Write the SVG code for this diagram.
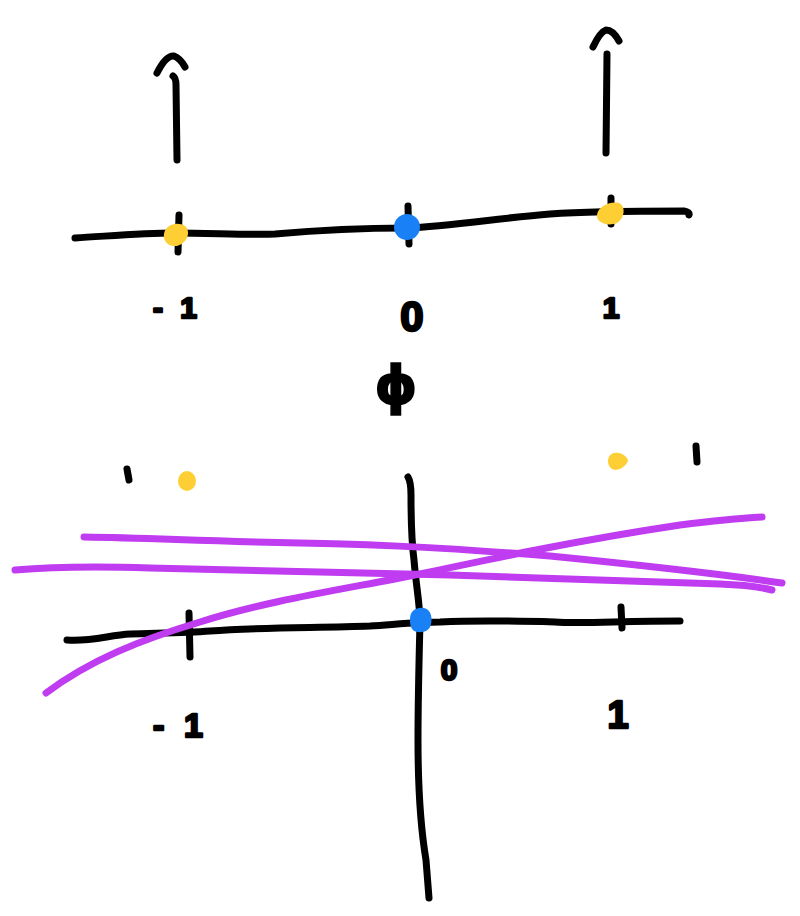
<svg xmlns="http://www.w3.org/2000/svg" width="800" height="916" viewBox="0 0 800 916">
<style>
.ink{fill:none;stroke:#000;stroke-width:7;stroke-linecap:round;stroke-linejoin:round}
.pur{fill:none;stroke:#bf3cf1;stroke-width:7;stroke-linecap:round;stroke-linejoin:round}
.yel{fill:#fdcf34}
.blu{fill:#1a80f5}
.lbl{font-family:"Liberation Sans",Arial,sans-serif;font-weight:bold;fill:#000;stroke:#000;stroke-width:2.5;stroke-linejoin:round}
</style>
<rect width="800" height="916" fill="#fff"/>
<g id="top-axis">
<path class="ink" d="M75,238 C110,236 140,233 175,233 C210,233 250,235 275,234 C320,230 370,228 407,228 C450,226 500,218 550,214 C590,211 640,211 684,211 Q690,212 689,215"/>
<path class="ink" d="M179,215 L178,252"/>
<path class="ink" d="M408,206 L409,244"/>
<path class="ink" d="M611,198 L611,224"/>
<path class="yel" d="M164,234 C165,225 177,221 185,226 C191,231 188,243 177,246 C168,247 163,241 164,234 Z"/>
<circle class="blu" cx="407" cy="227" r="13"/>
<path class="yel" d="M597,215 C598,206 611,201 619,203 C626,206 625,218 617,223 C607,227 596,222 597,215 Z"/>
</g>
<g id="arrow-left">
<path class="ink" d="M177,160 L176,85 Q176,78 173,76"/>
<path class="ink" d="M157,73 Q166,55 174,56 Q180,58 185,67"/>
</g>
<g id="arrow-right">
<path class="ink" d="M606,153 L607,54"/>
<path class="ink" d="M593,47 Q600,32 606,30 Q613,30 619,41"/>
</g>
<g id="top-labels">
<text class="lbl" x="153" y="318" font-size="30" textLength="44" lengthAdjust="spacing">-1</text>
<text class="lbl" x="412" y="331" font-size="42" text-anchor="middle">0</text>
<text class="lbl" x="611" y="318" font-size="30" text-anchor="middle">1</text>
<text x="396" y="404" font-size="54" text-anchor="middle" font-family="DejaVu Sans,sans-serif" font-weight="bold" fill="#000" stroke="#000" stroke-width="1.5">ϕ</text>
</g>
<g id="bottom-axes">
<path class="ink" d="M408,477 Q411,482 411,495 C411,520 412,545 414,560 C416,585 420,605 420,622 C419,660 418,700 418,740 C418,790 421,830 426,860 L429,898"/>
<path class="ink" d="M67,640 C90,642 110,635 130,634 C160,633 185,633 210,631 C260,627 320,628 370,626 C400,624 420,622 440,622 C480,620 520,621 555,622 C580,624 620,621 680,621"/>
<path class="ink" d="M189,613 L190,657"/>
<path class="ink" d="M621,607 L622,628"/>
<path class="blu" d="M410,619 C410,610 417,607 424,608 C432,610 433,620 430,627 C427,633 416,634 412,629 C410,626 410,622 410,619 Z"/>
<path class="ink" d="M127,469 L129,480"/>
<path class="ink" d="M696,446 L697,462"/>
<ellipse class="yel" cx="187" cy="481" rx="9" ry="10"/>
<path class="yel" d="M608,461 C608,454 614,452 619,453 C624,454 628,458 628,461 C626,466 620,470 615,470 C610,469 608,465 608,461 Z"/>
</g>
<g id="curves">
<path class="pur" d="M84,537 C150,538 200,541 300,543 C400,545 460,549 550,556 C620,563 700,571 782,583"/>
<path class="pur" d="M15,570 C50,567 90,566 150,568 C250,570 350,572 450,575 C550,579 650,582 720,584 C745,585 760,587 772,590"/>
<path class="pur" d="M46,693 C90,660 140,640 200,622 C270,600 340,590 420,574 C500,557 580,540 680,525 C720,520 745,518 762,517"/>
</g>
<g id="bottom-labels">
<text class="lbl" x="449" y="680" font-size="30" text-anchor="middle">0</text>
<text class="lbl" x="153" y="737" font-size="34" textLength="50" lengthAdjust="spacing">-1</text>
<text class="lbl" x="618" y="728" font-size="38" text-anchor="middle">1</text>
</g>
</svg>
